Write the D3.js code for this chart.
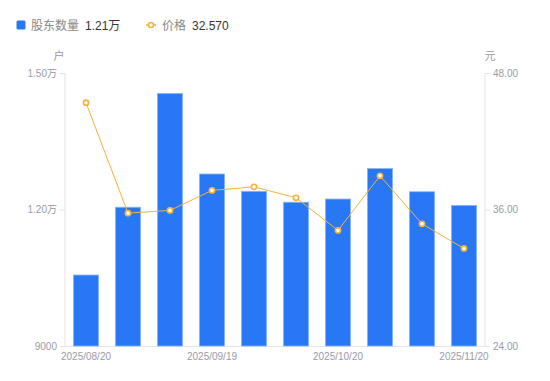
<!DOCTYPE html>
<html>
<head>
<meta charset="utf-8">
<script src="https://cdn.jsdelivr.net/npm/d3@7"></script>
<style>
  body { margin: 0; background: #fff; font-family: "Liberation Sans", "Noto Sans CJK SC", sans-serif; }
</style>
</head>
<body>
<div id="chart"></div>
<script>
// dates for each bar, only every third one gets a label
const dates = ['2025/08/20', '2025/08/29', '2025/09/10', '2025/09/19', '2025/09/30',
    '2025/10/10', '2025/10/20', '2025/10/31', '2025/11/10', '2025/11/20'];
// holders count (户)
const holders = [10560, 12050, 14550, 12780, 12400, 12160, 12230, 12900, 12390, 12090];
// price (元)
const prices = [45.39, 35.68, 35.92, 37.68, 37.99, 37.03, 34.16, 38.96, 34.74, 32.57];
const leftTicks = [9000, 12000, 15000];
const rightTicks = [24, 36, 48];
const shownDates = ['2025/08/20', '2025/09/19', '2025/10/20', '2025/11/20'];

const W = 550, H = 381;
const margin = {top: 73, right: 65, bottom: 35, left: 65};
const width = W - margin.left - margin.right,
    height = H - margin.top - margin.bottom;

const blue = '#2878f5', orange = '#f7b13d', grey = '#9a9aa8';

const svg = d3.select('#chart')
    .append('svg')
    .attr('width', W)
    .attr('height', H);

// legend
const legend = svg.append('g').style('font-size', '12px');
legend.append('rect')
    .attr('x', 16.5).attr('y', 20.5)
    .attr('width', 9).attr('height', 9)
    .attr('rx', 1.5)
    .style('fill', blue);
legend.append('text').attr('x', 31).attr('y', 29.5).style('fill', '#888').text('股东数量');
legend.append('text').attr('x', 85).attr('y', 29.5).style('fill', '#333')
    .text((holders[holders.length - 1] / 10000).toFixed(2) + '万');
legend.append('line')
    .attr('x1', 146).attr('x2', 156).attr('y1', 25).attr('y2', 25)
    .style('stroke', orange).style('stroke-width', 1.5);
legend.append('circle')
    .attr('cx', 151).attr('cy', 25).attr('r', 2.5)
    .style('fill', '#fff').style('stroke', orange).style('stroke-width', 1.5);
legend.append('text').attr('x', 162).attr('y', 29.5).style('fill', '#888').text('价格');
legend.append('text').attr('x', 192).attr('y', 29.5).style('fill', '#333')
    .text(prices[prices.length - 1].toFixed(3));

const g = svg.append('g')
    .attr('transform', `translate(${margin.left}, ${margin.top})`);

const x = d3.scaleBand()
    .domain(dates)
    .range([0, width])
    .paddingInner(0.4)
    .paddingOuter(0.2);

const yL = d3.scaleLinear().domain([9000, 15000]).range([height, 0]);
const yR = d3.scaleLinear().domain([24, 48]).range([height, 0]);

function fmtLeft(v) {
    return v >= 10000 ? (v / 10000).toFixed(2) + '万' : String(v);
}

// left axis
const axL = g.append('g')
    .call(d3.axisLeft(yL).tickValues(leftTicks).tickFormat(fmtLeft).tickSize(5).tickPadding(3));
// right axis
const axR = g.append('g')
    .attr('transform', `translate(${width}, 0)`)
    .call(d3.axisRight(yR).tickValues(rightTicks).tickFormat(d3.format('.2f')).tickSize(5).tickPadding(3));
[axL, axR].forEach(function(ax) {
    ax.select('.domain').attr('d', `M0,0V${height}`).style('stroke', '#e3e3e8');
    ax.selectAll('.tick line').style('stroke', '#e3e3e8');
    ax.selectAll('.tick text').style('fill', grey).style('font-size', '10px')
        .style('font-family', '"Liberation Sans", "Noto Sans CJK SC", sans-serif');
});

// bottom axis
const axB = g.append('g')
    .attr('transform', `translate(0, ${height})`)
    .call(d3.axisBottom(x).tickValues(shownDates).tickSize(0).tickPadding(7));
axB.select('.domain').style('stroke', '#e3e3e8');
axB.selectAll('.tick text').style('fill', grey).style('font-size', '10px')
    .style('font-family', '"Liberation Sans", Arial, sans-serif');

// unit labels
g.append('text').attr('x', -6).attr('y', -13).attr('text-anchor', 'middle')
    .style('fill', grey).style('font-size', '11px').text('户');
g.append('text').attr('x', width + 5).attr('y', -13).attr('text-anchor', 'middle')
    .style('fill', grey).style('font-size', '11px').text('元');

// bars
g.append('g')
    .selectAll('rect')
    .data(holders)
    .enter()
    .append('rect')
    .attr('x', function(d, i) { return x(dates[i]); })
    .attr('y', function(d) { return yL(d); })
    .attr('width', x.bandwidth())
    .attr('height', function(d) { return height - yL(d); })
    .style('fill', blue)
    .style('stroke', '#8ab4f8')
    .style('stroke-width', 0.8);

// price line
const line = d3.line()
    .x(function(d, i) { return x(dates[i]) + x.bandwidth() / 2; })
    .y(function(d) { return yR(d); });

g.append('path')
    .datum(prices)
    .attr('d', line)
    .style('fill', 'none')
    .style('stroke', orange)
    .style('stroke-width', 1);

g.append('g')
    .selectAll('circle')
    .data(prices)
    .enter()
    .append('circle')
    .attr('cx', function(d, i) { return x(dates[i]) + x.bandwidth() / 2; })
    .attr('cy', function(d) { return yR(d); })
    .attr('r', 2.6)
    .style('fill', '#fff')
    .style('stroke', orange)
    .style('stroke-width', 1.6);
</script>
</body>
</html>
